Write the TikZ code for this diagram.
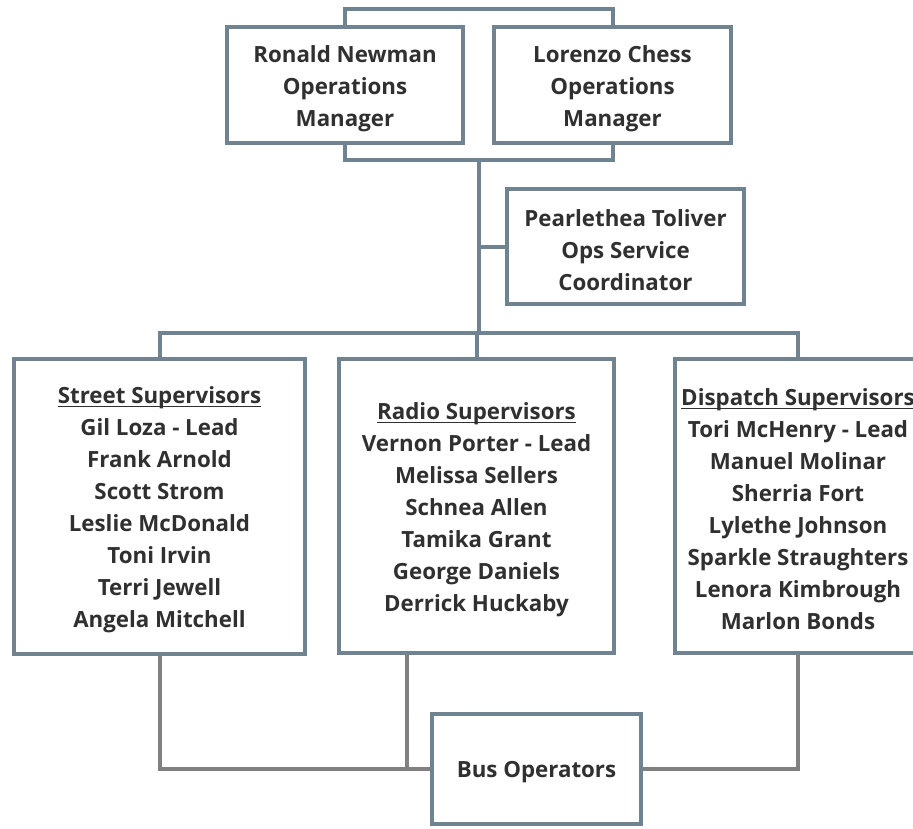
\documentclass[tikz,border=0pt]{standalone}
\usepackage{fontspec}
\setmainfont{Open Sans}
\definecolor{boxc}{HTML}{6F8391}
\definecolor{txt}{HTML}{303030}
\definecolor{gline}{HTML}{808080}
\newcommand\ulx[1]{\setbox0\hbox{#1}\rlap{\rule[-3.5pt]{\wd0}{1.3pt}}\box0}
\begin{document}
\begin{tikzpicture}[x=1pt,y=-1pt,
  box/.style={draw=boxc, line width=4pt, fill=white, inner sep=0pt},
  lbl/.style={inner sep=0pt, align=center, text=txt, font=\bfseries\fontsize{22.3}{32}\selectfont},
  conn/.style={draw=boxc, line width=4pt},
  gconn/.style={draw=gline, line width=4pt}]
\clip (0,0) rectangle (913,828);
\fill[white] (0,0) rectangle (913,828);
\coordinate (t) at (479,9);
\coordinate (m) at (479,160);
\coordinate (h) at (479,333);
\coordinate (rv) at (407,769);
% boxes
\node[box, minimum width=236pt, minimum height=116pt] (rn) at (345,85) {};
\node[box, minimum width=237pt, minimum height=116pt] (lc) at (612.5,85) {};
\node[box, minimum width=237pt, minimum height=115pt] (pt) at (625.5,246.5) {};
\node[box, minimum width=291pt, minimum height=295pt] (ss) at (159.5,506.5) {};
\node[box, minimum width=275pt, minimum height=294pt] (rs) at (476.5,506) {};
\node[box, minimum width=246pt, minimum height=294pt] (ds) at (798,506) {};
\node[box, minimum width=209pt, minimum height=110pt] (bo) at (536.5,769) {};
% texts
\node[lbl] (rnt) at ([yshift=-3.5pt]rn.center) {Ronald Newman\\Operations\\Manager};
\node[lbl] (lct) at ([yshift=-3.5pt]lc.center) {Lorenzo Chess\\Operations\\Manager};
\node[lbl] (ptt) at ([yshift=-3.5pt]pt.center) {Pearlethea Toliver\\Ops Service\\Coordinator};
\node[lbl] (sst) at ([yshift=-3.5pt]ss.center) {\ulx{Street Supervisors}\\Gil Loza - Lead\\Frank Arnold\\Scott Strom\\Leslie McDonald\\Toni Irvin\\Terri Jewell\\Angela Mitchell};
\node[lbl] (rst) at ([yshift=-3.5pt]rs.center) {\ulx{Radio Supervisors}\\Vernon Porter - Lead\\Melissa Sellers\\Schnea Allen\\Tamika Grant\\George Daniels\\Derrick Huckaby};
\node[lbl] (dst) at ([yshift=-3.5pt]ds.center) {\ulx{Dispatch Supervisors}\\Tori McHenry - Lead\\Manuel Molinar\\Sherria Fort\\Lylethe Johnson\\Sparkle Straughters\\Lenora Kimbrough\\Marlon Bonds};
\node[lbl] (bot) at ([yshift=-3pt]bo.center) {Bus Operators};
% connectors
\draw[conn] (rn.north) -- (rn.north |- t) -| (lc.north);
\draw[conn] (rn.south) -- (rn.south |- m) -| (lc.south);
\draw[conn] (m) -- (h);
\draw[conn] (m |- pt.west) -- (pt.west);
\draw[conn] (ss.north) -- (ss.north |- h) -| (ds.north);
\draw[conn] (rs.north) -- (rs.north |- h);
\draw[gconn] (ss.south) -- (ss.south |- bo.west) -- (bo.west);
\draw[gconn] (rs.south -| rv) -- (rv);
\draw[gconn] (ds.south) -- (ds.south |- bo.east) -- (bo.east);
\end{tikzpicture}
\end{document}
